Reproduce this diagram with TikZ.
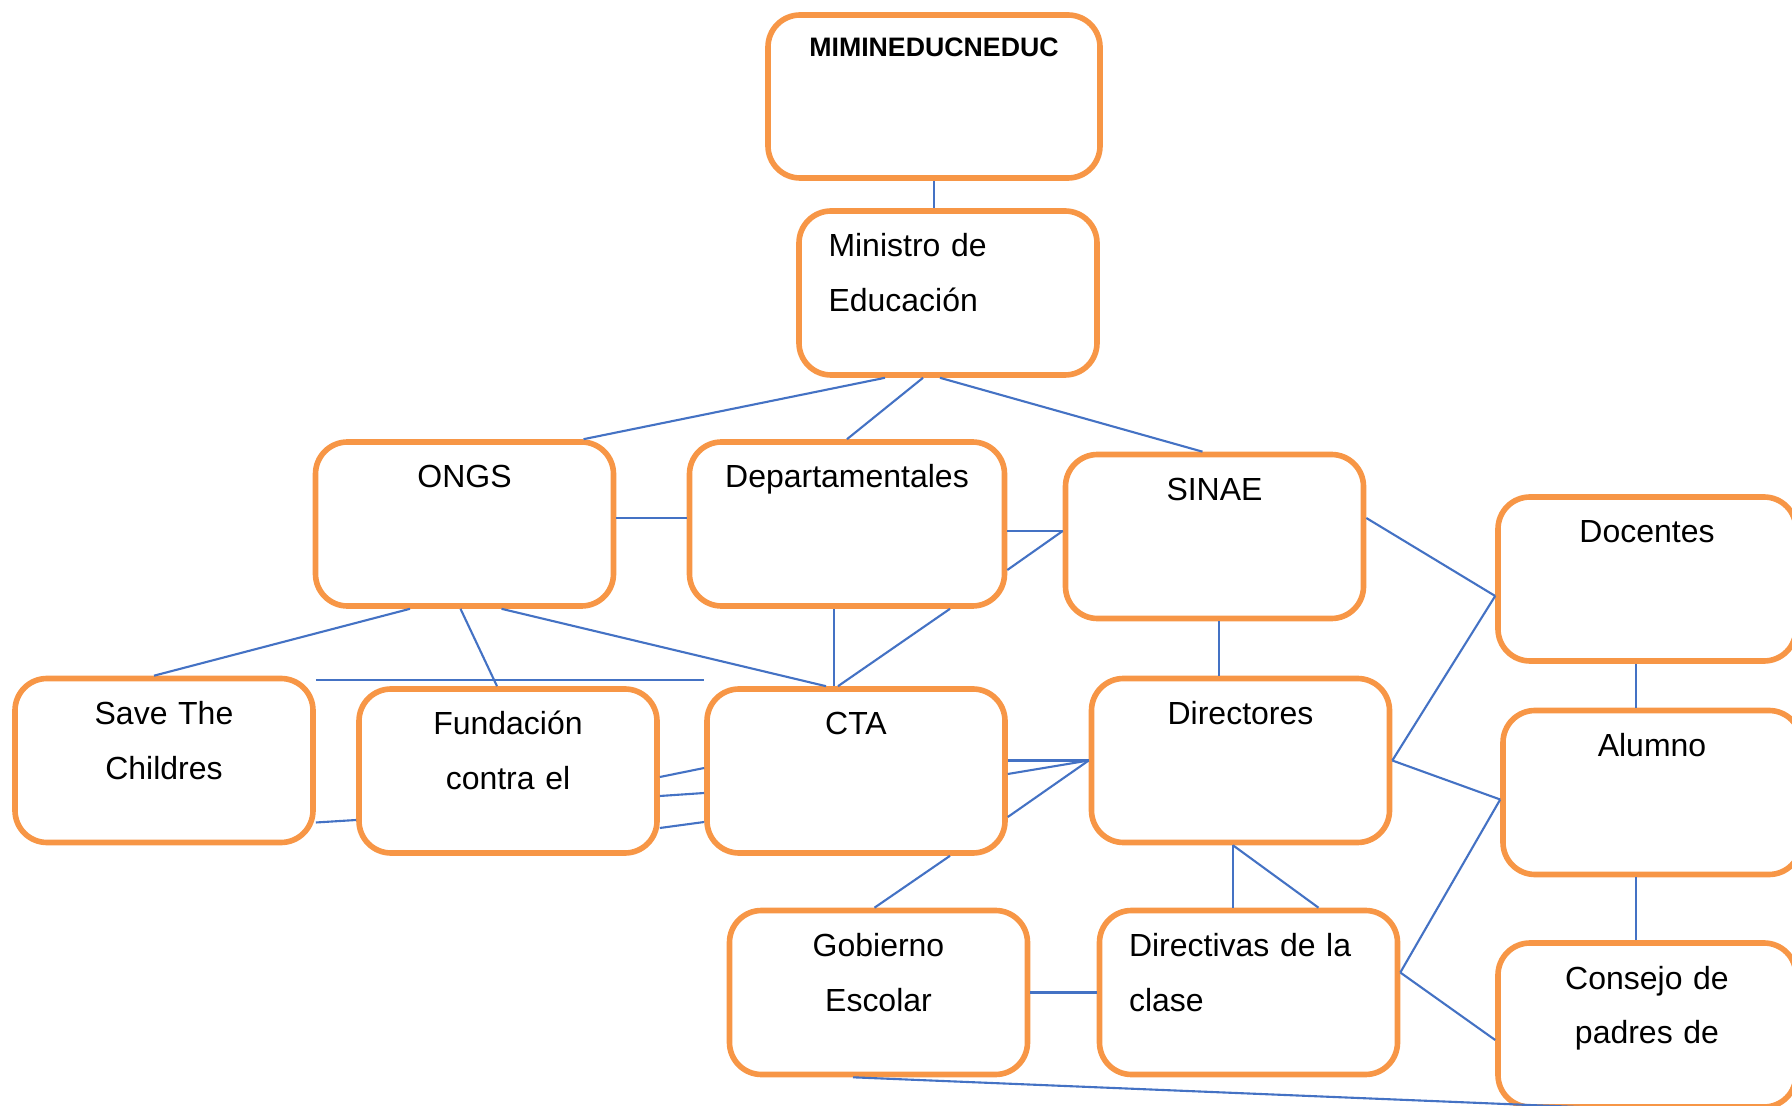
\documentclass[tikz,border=0pt]{standalone}
\usepackage{fontspec}
\setmainfont{Liberation Sans}
\usepackage{tikz}
\definecolor{boxorange}{RGB}{247,150,70}
\definecolor{linkblue}{RGB}{68,114,196}

\begin{document}
\begin{tikzpicture}[
    orgbox/.style={draw=boxorange, line width=1.6pt, rounded corners=0.32cm,
      text width=2.98cm, inner xsep=0pt, inner ysep=0pt, align=center,
      text height=0.46cm, text depth=1.18cm,
      font=\fontsize{9.1}{15.6}\selectfont},
    leftbox/.style={orgbox, align=left, inner xsep=0.295cm, text width=2.39cm},
    link/.style={draw=linkblue, line width=0.6pt}
]
\useasboundingbox (0,0) rectangle (17.92,-11.06);

% top levels
\node[orgbox, text width=3.32cm, text height=0.42cm, text depth=1.21cm,
      font=\bfseries\fontsize{7.6}{9}\selectfont] (mined) at (9.34,-0.965) {MIMINEDUCNEDUC};
\node[leftbox] (minis) at (9.48,-2.93) {Ministro de\\ Educación};

\node[orgbox] (ongs) at (4.645,-5.24) {ONGS};
\node[orgbox, text width=3.15cm] (dept) at (8.47,-5.24) {Departamentales};
\node[orgbox] (sinae) at (12.145,-5.365) {SINAE};
\node[orgbox] (doc) at (16.47,-5.79) {Docentes};

\node[orgbox] (save) at (1.64,-7.605) {Save The\\ Childres};
\node[orgbox] (fund) at (5.08,-7.71) {Fundación\\ contra el};
\node[orgbox] (cta) at (8.56,-7.71) {CTA};
\node[orgbox] (dir) at (12.405,-7.605) {Directores};
\node[orgbox] (alum) at (16.52,-7.925) {Alumno};

\node[orgbox] (gob) at (8.785,-9.925) {Gobierno\\ Escolar};
\node[leftbox] (dirv) at (12.485,-9.925) {Directivas de la\\ clase};
\node[orgbox] (cons) at (16.47,-10.25) {Consejo de\\ padres de};

% links
\draw[link] (mined.south) -- (mined.south |- minis.north);
\draw[link] ([xshift=-0.63cm]minis.south) -- ([xshift=1.19cm]ongs.north);
\draw[link] ([xshift=-0.25cm]minis.south) -- (dept.north);
\draw[link] ([xshift=-0.08cm]minis.south) -- ([xshift=-0.12cm]sinae.north);

\draw[link] ([yshift=0.06cm]ongs.east) -- ([yshift=0.06cm]dept.west);
\coordinate (ds) at ([yshift=0.055cm]sinae.west);
\draw[link] (ds -| dept.east) -- (ds);
\draw[link] ([yshift=-0.46cm]dept.east) -- (ds);

\draw[link] ([xshift=-0.545cm]ongs.south) -- ([xshift=-0.1cm]save.north);
\draw[link] ([xshift=-0.04cm]ongs.south) -- ([xshift=-0.11cm]fund.north);
\draw[link] ([xshift=0.37cm]ongs.south) -- ([xshift=-0.3cm]cta.north);
\coordinate (hl) at ([yshift=-0.04cm]save.north east);
\draw[link] (hl) -- (hl -| cta.west);

\draw[link] ([xshift=-0.22cm]cta.north) -- ([xshift=-0.22cm]cta.north |- dept.south);
\draw[link] ([xshift=1.03cm]dept.south) -- ([xshift=-0.18cm]cta.north);

\draw[link] ([yshift=-0.62cm]save.east) -- ([yshift=-0.49cm]fund.west);
\draw[link] ([yshift=-0.06cm]fund.east) -- ([yshift=0.03cm]cta.west);
\draw[link] ([yshift=-0.25cm]fund.east) -- ([yshift=-0.22cm]cta.west);
\draw[link] ([yshift=-0.57cm]fund.east) -- ([yshift=-0.51cm]cta.west);

\draw[link] (cta.east |- dir.west) -- (dir.west);
\draw[link] ([yshift=-0.03cm]cta.east) -- (dir.west);
\draw[link] ([yshift=-0.46cm]cta.east) -- (dir.west);
\draw[link] ([xshift=0.94cm]cta.south) -- ([xshift=-0.04cm]gob.north);

\draw[link] ([xshift=-0.215cm]dir.north) -- ([xshift=-0.215cm]dir.north |- sinae.south);
\draw[link] ([yshift=0.185cm]sinae.east) -- ([yshift=-0.17cm]doc.west);
\draw[link] (dir.east) -- ([yshift=-0.17cm]doc.west);
\draw[link] (dir.east) -- ([yshift=-0.07cm]alum.west);
\draw[link] ([yshift=0.2cm]dirv.east) -- ([yshift=-0.07cm]alum.west);
\draw[link] ([yshift=0.2cm]dirv.east) -- ([yshift=-0.15cm]cons.west);

\draw[link] ([xshift=-0.11cm]doc.south) -- ([xshift=-0.11cm]doc.south |- alum.north);
\draw[link] ([xshift=-0.16cm]alum.south) -- ([xshift=-0.16cm]alum.south |- cons.north);

\draw[link] ([xshift=-0.075cm]dir.south) -- ([xshift=-0.075cm]dir.south |- dirv.north);
\draw[link] ([xshift=-0.075cm]dir.south) -- ([xshift=0.7cm]dirv.north);
\draw[link] (gob.east) -- (dirv.west);
\draw[link] ([xshift=-0.255cm]gob.south) -- (cons.south);

\end{tikzpicture}
\end{document}
